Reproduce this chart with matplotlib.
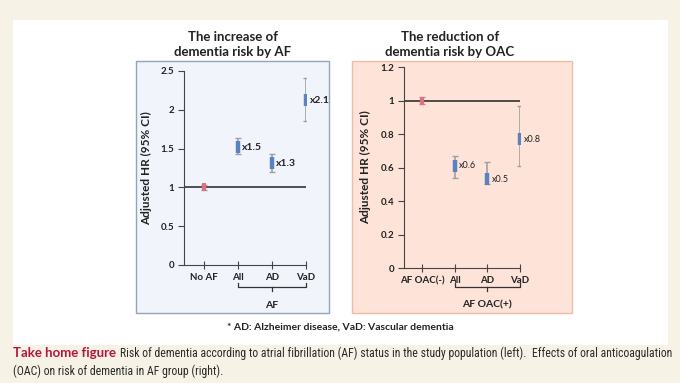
import matplotlib.pyplot as plt
from matplotlib import font_manager
from matplotlib.patches import Rectangle
from matplotlib.transforms import blended_transform_factory

plt.rcParams['font.family'] = ['Lato', 'DejaVu Sans']

# left panel: AF vs no AF
af_cats = ["No AF", "All", "AD", "VaD"]
af_hr = [1.00, 1.52, 1.31, 2.12]
af_lo = [0.97, 1.43, 1.20, 1.86]
af_hi = [1.03, 1.64, 1.43, 2.41]
af_labels = ["", "x1.5", "x1.3", "x2.1"]

# right panel: OAC effect in AF
oac_cats = ["AF OAC(-)", "All", "AD", "VaD"]
oac_hr = [1.00, 0.61, 0.53, 0.77]
oac_lo = [0.98, 0.54, 0.50, 0.61]
oac_hi = [1.02, 0.67, 0.63, 0.97]
oac_labels = ["", "x0.6", "x0.5", "x0.8"]

caption_head = "Take home figure"
caption_line1 = ("Risk of dementia according to atrial fibrillation (AF) status in the study "
                 "population (left).  Effects of oral anticoagulation")
caption_line2 = "(OAC) on risk of dementia in AF group (right)."

W, H = 680, 383
fig = plt.figure(figsize=(W / 100, H / 100), dpi=100)
fig.patch.set_facecolor('#f6f2e6')


def px_rect(x0, y0, x1, y1):
    return [x0 / W, 1 - y1 / H, (x1 - x0) / W, (y1 - y0) / H]


# white figure area
r = px_rect(13, 20, 668, 345)
fig.patches.append(Rectangle((r[0], r[1]), r[2], r[3], transform=fig.transFigure,
                             facecolor='white', edgecolor='none', zorder=-3))
# panel boxes
for box, fc, ec in [((136, 61, 329, 313), '#f2f4fc', '#93a3b8'),
                    ((352, 61, 572, 313), '#fde3d8', '#f0bca8')]:
    r = px_rect(*box)
    fig.patches.append(Rectangle((r[0], r[1]), r[2], r[3], transform=fig.transFigure,
                                 facecolor=fc, edgecolor=ec, lw=1.0, zorder=-2))


def panel(rect, cats, hr, lo, hi, labels, xlim, ylim, yticks, ytl, title, title_x,
          group, label_weight, label_size, ylab_x):
    ax = fig.add_axes(px_rect(*rect))
    ax.set_facecolor('none')
    x = list(range(1, len(cats) + 1))
    ax.axhline(1, color='#222222', lw=1.1, zorder=1)
    err = [[h - l for h, l in zip(hr, lo)], [u - h for h, u in zip(hr, hi)]]
    ax.errorbar(x, hr, yerr=err, fmt='none', ecolor='#a0a0a0', elinewidth=1.2,
                capsize=2.3, capthick=1.0, zorder=2)
    ax.plot(x[:1], hr[:1], ls='none', marker='|', ms=6, mew=3, color='#e07080', zorder=3)
    ax.plot(x[1:], hr[1:], ls='none', marker='|', ms=8, mew=3.2, color='#5b82c0', zorder=3)
    for xi, yi, t in zip(x, hr, labels):
        if t:
            ax.annotate(t, (xi, yi), xytext=(3, 0), textcoords='offset points',
                        ha='left', va='center', fontsize=label_size,
                        fontweight=label_weight, color='#222222')
    ax.set_xlim(*xlim)
    ax.set_ylim(*ylim)
    ax.set_yticks(yticks)
    ax.set_yticklabels(ytl)
    ax.set_xticks(x)
    ax.set_xticklabels(cats)
    for s in ['top', 'right']:
        ax.spines[s].set_visible(False)
    ax.spines['left'].set_color('#444444')
    ax.spines['bottom'].set_color('#444444')
    ax.tick_params(axis='y', direction='out', length=4, color='#444444',
                   labelsize=7, pad=3)
    ax.tick_params(axis='x', direction='inout', length=6, color='#444444',
                   labelsize=7, pad=3)
    for lab in ax.get_xticklabels() + ax.get_yticklabels():
        lab.set_fontweight('bold')
        lab.set_color('#222222')
    ax.set_ylabel("Adjusted HR (95% CI)", fontsize=8.5, fontweight='bold', color='#222222')
    ax.yaxis.set_label_coords(ylab_x, 0.5)
    fig.text(title_x / W, 1 - 44.5 / H, title, ha='center', va='center', fontsize=9.5,
             fontweight='bold', color='#222222', linespacing=1.25)
    # bracket under the group
    tr = blended_transform_factory(ax.transData, ax.transAxes)
    h = rect[3] - rect[1]
    yb0 = -(283 - rect[3]) / h
    yb1 = -(287 - rect[3]) / h
    yb2 = -(291 - rect[3]) / h
    mid = (x[1] + x[-1]) / 2
    ax.plot([x[1], x[1], x[-1], x[-1]], [yb0, yb1, yb1, yb0], color='#333333',
            lw=0.9, transform=tr, clip_on=False)
    ax.plot([mid, mid], [yb1, yb2], color='#333333', lw=0.9, transform=tr, clip_on=False)
    ax.text(mid, -(305 - rect[3]) / h, group, transform=tr, ha='center', va='center',
            fontsize=7.5, fontweight='bold', color='#222222')
    return ax


panel((184, 71, 306, 265), af_cats, af_hr, af_lo, af_hi, af_labels,
      (0.41, 4.0), (0, 2.5), [0, 0.5, 1, 1.5, 2, 2.5], ["0", "0.5", "1", "1.5", "2", "2.5"],
      "The increase of\ndementia risk by AF", 233, "AF", 'bold', 7.5, -0.26)
panel((404, 67, 520, 268), oac_cats, oac_hr, oac_lo, oac_hi, oac_labels,
      (0.45, 4.0), (0, 1.2), [0, 0.2, 0.4, 0.6, 0.8, 1.0, 1.2],
      ["0", "0.2", "0.4", "0.6", "0.8", "1", "1.2"],
      "The reduction of\ndementia risk by OAC", 450, "AF OAC(+)", 'normal', 6.5, -0.28)

fig.text(340 / W, 1 - 327 / H, "* AD: Alzheimer disease, VaD: Vascular dementia",
         ha='center', va='center', fontsize=7.5, fontweight='bold', color='#222222')

# caption: pick a narrow face if there is one, then fit the first line to the white width
cap_family = ['Lato', 'DejaVu Sans']
for cand in ['Liberation Sans Narrow', 'Roboto Condensed', 'Open Sans Condensed']:
    try:
        font_manager.findfont(font_manager.FontProperties(family=cand),
                              fallback_to_default=False)
        cap_family = [cand, 'DejaVu Sans']
        break
    except ValueError:
        pass

renderer = fig.canvas.get_renderer()
t1 = fig.text(13 / W, 1 - 357 / H, caption_head, ha='left', va='baseline',
              fontsize=9.5, fontweight='bold', color='#b2173f')
head_end = t1.get_window_extent(renderer).x1
start = head_end + 4
t2 = fig.text(start / W, 1 - 357 / H, caption_line1, ha='left', va='baseline',
              fontsize=8.5, family=cap_family, color='#2a2a2a')
wid = t2.get_window_extent(renderer).width
size = 8.5 * (668 - start) / wid
t2.set_fontsize(size)
fig.text(13 / W, 1 - 375 / H, caption_line2, ha='left', va='baseline',
         fontsize=size, family=cap_family, color='#2a2a2a')

fig.savefig('out.png', dpi=100, facecolor=fig.get_facecolor())
